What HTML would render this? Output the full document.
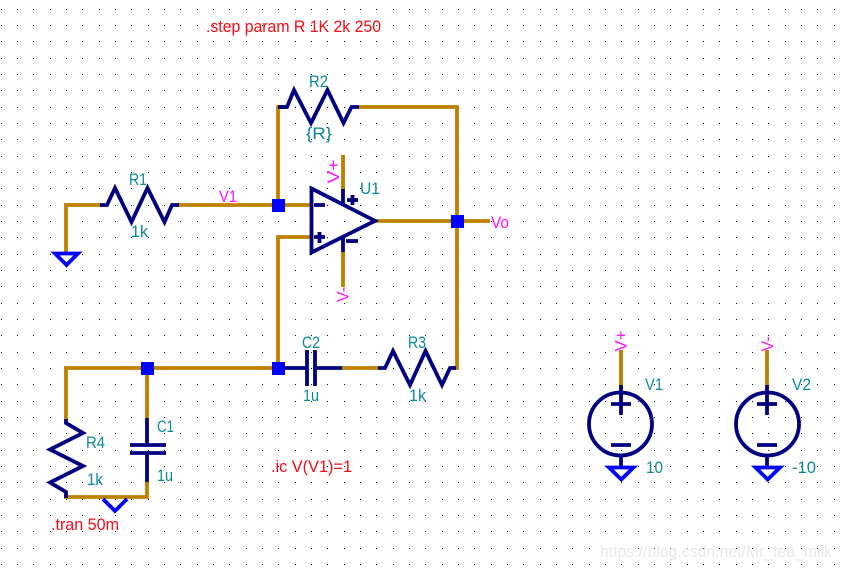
<!DOCTYPE html>
<html><head><meta charset="utf-8"><style>
html,body{margin:0;padding:0;background:#fff;width:841px;height:569px;overflow:hidden}
svg{display:block}
text{font-family:"Liberation Sans",sans-serif;font-size:16.5px}
.t{fill:#0a8a96}.m{fill:#ff10ff}.r{fill:#fa0a14}
.w{fill:none;stroke:#bf8000;stroke-width:3.8;stroke-linejoin:miter}
.n{fill:none;stroke:#000080;stroke-width:3.8;stroke-linejoin:miter}
.g{fill:none;stroke:#0000ff;stroke-width:3.8;stroke-linejoin:miter}
.j{fill:#0000ff}
</style></head><body>
<svg width="841" height="569" viewBox="0 0 841 569" xmlns="http://www.w3.org/2000/svg">
<defs><pattern id="d" x="0" y="0" width="49" height="49" patternUnits="userSpaceOnUse">
<path d="M1 9h1v1h-1zM17 9h1v1h-1zM33 9h1v1h-1zM1 25h1v1h-1zM17 25h1v1h-1zM33 25h1v1h-1zM1 41h1v1h-1zM17 41h1v1h-1zM33 41h1v1h-1z" fill="#111" shape-rendering="crispEdges"/>
</pattern></defs>
<rect width="841" height="569" fill="#fff"/>
<rect width="841" height="569" fill="url(#d)"/>

<text x="600" y="557" fill="#eaeaea" textLength="232" lengthAdjust="spacingAndGlyphs" style="font-size:17px">https://blog.csdn.net/Mr_tea_milk</text>

<!-- wires -->
<path class="w" d="M66 253V205H101"/>
<path class="w" d="M177 205H311"/>
<path class="w" d="M278 205V107H287"/>
<path class="w" d="M359 107H457V368H452"/>
<path class="w" d="M311 237H278V368"/>
<path class="w" d="M375 221H490"/>
<path class="w" d="M343 155V190"/>
<path class="w" d="M343 252V287"/>
<path class="w" d="M66 419V368H285"/>
<path class="w" d="M147 368V419"/>
<path class="w" d="M147 481V497H64"/>
<path class="w" d="M342 368H378"/>
<path class="w" d="M621 350V386"/>
<path class="w" d="M767 350V386"/>

<!-- resistors -->
<path class="n" d="M100 205H107L115 188L131.500 222L147.500 188L164.500 222L172 205H179"/>
<path class="n" d="M278 107H287L294 90L311 123L327.500 90L343.500 123L351.500 107H359"/>
<path class="n" d="M378 368H385L393 351L410 385L425.500 351L442 385L450 368H456"/>
<path class="n" d="M66 419V423L83 433L50 449.500L83 466L50 482.500L66 492V498"/>

<!-- opamp -->
<path class="n" d="M311.500 188.500L375 220.800L311.500 252.500Z"/>
<path class="n" d="M343 189V206M343 237V252"/>
<path class="n" d="M314 205H325M314 237H325M319.500 232V243M347 200H358M352.500 195V205M346 241H358"/>

<!-- capacitors -->
<path class="n" d="M147 418V445M130 445H166M130 453H166M147 453V482"/>
<path class="n" d="M285 368H307M307 350V386M315 350V386M315 368H342"/>

<!-- sources -->
<circle class="n" cx="620.500" cy="424" r="31.500"/>
<path class="n" d="M621 385V415M611 404H631M611 445H631M621 456V467"/>
<circle class="n" cx="767.500" cy="424" r="31.500"/>
<path class="n" d="M767 385V415M757 404H777M757 445H777M767 456V467"/>

<!-- grounds -->
<path class="g" d="M55 253.500H78L66.500 265Z"/>
<path class="g" d="M103 499L115 511L127 499"/>
<path class="g" d="M609 467.500H633.500L621.300 479.500Z"/>
<path class="g" d="M755.500 467.500H780L767.700 479.500Z"/>

<!-- junctions -->
<rect class="j" x="272" y="199" width="13" height="13"/>
<rect class="j" x="451" y="215" width="13" height="13"/>
<rect class="j" x="141" y="362" width="13" height="13"/>
<rect class="j" x="272" y="362" width="13" height="13"/>

<!-- text -->
<text class="r" x="206" y="32" textLength="175" lengthAdjust="spacingAndGlyphs">.step param R 1K 2k 250</text>
<text class="r" x="271" y="472" textLength="81" lengthAdjust="spacingAndGlyphs">.ic V(V1)=1</text>
<text class="r" x="51" y="530" textLength="68" lengthAdjust="spacingAndGlyphs">.tran 50m</text>

<text class="t" x="309" y="87" textLength="19" lengthAdjust="spacingAndGlyphs">R2</text>
<text class="t" x="306" y="139" textLength="26" lengthAdjust="spacingAndGlyphs">{R}</text>
<text class="t" x="129" y="185" textLength="18" lengthAdjust="spacingAndGlyphs">R1</text>
<text class="t" x="131" y="237" textLength="17" lengthAdjust="spacingAndGlyphs">1k</text>
<text class="t" x="360" y="194" textLength="20" lengthAdjust="spacingAndGlyphs">U1</text>
<text class="t" x="302" y="348" textLength="18" lengthAdjust="spacingAndGlyphs">C2</text>
<text class="t" x="303" y="401" textLength="16" lengthAdjust="spacingAndGlyphs">1u</text>
<text class="t" x="408" y="348" textLength="18" lengthAdjust="spacingAndGlyphs">R3</text>
<text class="t" x="409" y="401" textLength="17" lengthAdjust="spacingAndGlyphs">1k</text>
<text class="t" x="86" y="448" textLength="19" lengthAdjust="spacingAndGlyphs">R4</text>
<text class="t" x="87" y="485" textLength="16" lengthAdjust="spacingAndGlyphs">1k</text>
<text class="t" x="157" y="432" textLength="17" lengthAdjust="spacingAndGlyphs">C1</text>
<text class="t" x="157" y="481" textLength="16" lengthAdjust="spacingAndGlyphs">1u</text>
<text class="t" x="645" y="390" textLength="18" lengthAdjust="spacingAndGlyphs">V1</text>
<text class="t" x="646" y="473" textLength="17" lengthAdjust="spacingAndGlyphs">10</text>
<text class="t" x="792" y="390" textLength="19" lengthAdjust="spacingAndGlyphs">V2</text>
<text class="t" x="792" y="473" textLength="24" lengthAdjust="spacingAndGlyphs">-10</text>

<text class="m" x="219" y="202" textLength="18" lengthAdjust="spacingAndGlyphs">V1</text>
<text class="m" x="491" y="228" textLength="18" lengthAdjust="spacingAndGlyphs">Vo</text>
<text class="m" transform="translate(339 183.500) rotate(-90)" textLength="24" lengthAdjust="spacingAndGlyphs">V+</text>
<text class="m" transform="translate(348.500 302) rotate(-90)" textLength="15" lengthAdjust="spacingAndGlyphs">V-</text>
<text class="m" transform="translate(626.500 351.500) rotate(-90)" textLength="21" lengthAdjust="spacingAndGlyphs">V+</text>
<text class="m" transform="translate(773 351.500) rotate(-90)" textLength="15" lengthAdjust="spacingAndGlyphs">V-</text>
</svg>
</body></html>
